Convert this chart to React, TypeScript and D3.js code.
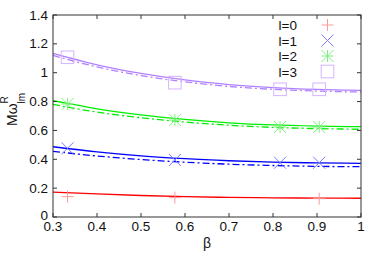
import * as d3 from 'd3';
import { useEffect, useRef } from 'react';

const WIDTH = 374;
const HEIGHT = 262;

// beta samples for the fitted curves
const betaGrid = [0.3, 0.4, 0.5, 0.6, 0.7, 0.8, 0.9, 1.0];

const l0Solid = [0.173, 0.16, 0.149, 0.141, 0.136, 0.133, 0.131, 0.13];
const l1Solid = [0.487, 0.452, 0.424, 0.404, 0.39, 0.38, 0.375, 0.372];
const l1Dash = [0.455, 0.423, 0.398, 0.38, 0.366, 0.357, 0.351, 0.349];
const l2Solid = [0.806, 0.75, 0.708, 0.676, 0.653, 0.638, 0.63, 0.626];
const l2Dash = [0.78, 0.727, 0.688, 0.658, 0.636, 0.621, 0.613, 0.608];
const l3Solid = [1.134, 1.055, 0.995, 0.95, 0.918, 0.897, 0.884, 0.877];
const l3Dash = [1.12, 1.04, 0.98, 0.937, 0.905, 0.885, 0.873, 0.866];

// numerical points
const l0Beta = [0.333, 0.577, 0.905];
const l0Points = [0.141, 0.134, 0.127];
const pointBeta = [0.333, 0.577, 0.816, 0.905];
const l1Points = [0.476, 0.395, 0.376, 0.376];
const l2Points = [0.783, 0.672, 0.624, 0.624];
const l3Points = [1.107, 0.931, 0.885, 0.885];

const xTicks = [0.3, 0.4, 0.5, 0.6, 0.7, 0.8, 0.9, 1];
const yTicks = [0, 0.2, 0.4, 0.6, 0.8, 1, 1.2, 1.4];
const legendLabels = ['l=0', 'l=1', 'l=2', 'l=3'];

const lineColors = ['#ff0000', '#0000ff', '#00ee00', '#b080ff'];
const markerColors = ['#ff9a9a', '#7a7aff', '#80f080', '#d4b4ff'];

type MarkerKind = 'plus' | 'cross' | 'star' | 'square';
const markerKinds: MarkerKind[] = ['plus', 'cross', 'star', 'square'];

export default function App() {
  const svgRef = useRef<SVGSVGElement | null>(null);

  useEffect(() => {
    if (!svgRef.current) return;
    const svg = d3.select(svgRef.current);
    svg.selectAll('*').remove();

    const margin = { left: 53, right: 13, top: 15, bottom: 45 };
    const x = d3.scaleLinear().domain([0.3, 1]).range([margin.left, WIDTH - margin.right]);
    const y = d3.scaleLinear().domain([0, 1.4]).range([HEIGHT - margin.bottom, margin.top]);
    const font = 'Liberation Sans, Arial, sans-serif';

    const line = d3
      .line<[number, number]>()
      .x((d) => x(d[0]))
      .y((d) => y(d[1]))
      .curve(d3.curveMonotoneX);

    const curves: { values: number[]; color: string; dashed: boolean }[] = [
      { values: l3Dash, color: lineColors[3], dashed: true },
      { values: l3Solid, color: lineColors[3], dashed: false },
      { values: l2Dash, color: lineColors[2], dashed: true },
      { values: l2Solid, color: lineColors[2], dashed: false },
      { values: l1Dash, color: lineColors[1], dashed: true },
      { values: l1Solid, color: lineColors[1], dashed: false },
      { values: l0Solid, color: lineColors[0], dashed: false },
    ];

    curves.forEach((c) => {
      svg
        .append('path')
        .attr('d', line(betaGrid.map((b, i) => [b, c.values[i]] as [number, number])))
        .attr('fill', 'none')
        .attr('stroke', c.color)
        .attr('stroke-width', 1.3)
        .attr('stroke-dasharray', c.dashed ? '7,3,2,3' : null);
    });

    const drawMarker = (cx: number, cy: number, kind: MarkerKind, color: string) => {
      const h = 6;
      const g = svg.append('g').attr('stroke', color).attr('stroke-width', 1).attr('fill', 'none');
      if (kind === 'plus' || kind === 'star') {
        g.append('line').attr('x1', cx - h).attr('x2', cx + h).attr('y1', cy).attr('y2', cy);
        g.append('line').attr('x1', cx).attr('x2', cx).attr('y1', cy - h).attr('y2', cy + h);
      }
      if (kind === 'cross' || kind === 'star') {
        g.append('line').attr('x1', cx - h).attr('x2', cx + h).attr('y1', cy - h).attr('y2', cy + h);
        g.append('line').attr('x1', cx - h).attr('x2', cx + h).attr('y1', cy + h).attr('y2', cy - h);
      }
      if (kind === 'square') {
        g.append('rect')
          .attr('x', cx - 6.3)
          .attr('y', cy - 6.3)
          .attr('width', 12.6)
          .attr('height', 12.6);
      }
    };

    l0Beta.forEach((b, i) => drawMarker(x(b), y(l0Points[i]), 'plus', markerColors[0]));
    pointBeta.forEach((b, i) => drawMarker(x(b), y(l1Points[i]), 'cross', markerColors[1]));
    pointBeta.forEach((b, i) => drawMarker(x(b), y(l2Points[i]), 'star', markerColors[2]));
    pointBeta.forEach((b, i) => drawMarker(x(b), y(l3Points[i]), 'square', markerColors[3]));

    // frame with inward ticks on all sides
    const [x0, x1] = x.range();
    const [y0, y1] = y.range();
    const axis = svg.append('g').attr('stroke', '#333').attr('stroke-width', 1);
    axis
      .append('rect')
      .attr('x', x0)
      .attr('y', y1)
      .attr('width', x1 - x0)
      .attr('height', y0 - y1)
      .attr('fill', 'none');
    const tick = 4;
    xTicks.forEach((t) => {
      axis.append('line').attr('x1', x(t)).attr('x2', x(t)).attr('y1', y0).attr('y2', y0 - tick);
      axis.append('line').attr('x1', x(t)).attr('x2', x(t)).attr('y1', y1).attr('y2', y1 + tick);
    });
    yTicks.forEach((t) => {
      axis.append('line').attr('x1', x0).attr('x2', x0 + tick).attr('y1', y(t)).attr('y2', y(t));
      axis.append('line').attr('x1', x1).attr('x2', x1 - tick).attr('y1', y(t)).attr('y2', y(t));
    });

    svg
      .append('g')
      .selectAll('text')
      .data(xTicks)
      .join('text')
      .attr('x', (d) => x(d))
      .attr('y', y0 + 14)
      .attr('text-anchor', 'middle')
      .attr('font-family', font)
      .attr('font-size', 13.5)
      .attr('fill', '#111')
      .text((d) => d3.format('~g')(d));

    svg
      .append('g')
      .selectAll('text')
      .data(yTicks)
      .join('text')
      .attr('x', x0 - 5)
      .attr('y', (d) => y(d) + (d === 0 ? 2.5 : 4.5))
      .attr('text-anchor', 'end')
      .attr('font-family', font)
      .attr('font-size', 13.5)
      .attr('fill', '#111')
      .text((d) => d3.format('~g')(d));

    svg
      .append('text')
      .attr('x', 207)
      .attr('y', 248)
      .attr('text-anchor', 'middle')
      .attr('font-family', font)
      .attr('font-size', 14)
      .attr('fill', '#111')
      .text('β');

    const ylab = svg
      .append('g')
      .attr('transform', 'translate(17,126) rotate(-90)')
      .attr('font-family', font)
      .attr('fill', '#111');
    ylab.append('text').attr('x', 0).attr('y', 0).attr('font-size', 14).text('Mω');
    ylab.append('text').attr('x', 22.5).attr('y', -9).attr('font-size', 10).text('R');
    ylab.append('text').attr('x', 22.5).attr('y', 7.5).attr('font-size', 10).text('lm');

    // legend
    legendLabels.forEach((label, i) => {
      const cy = 25 + i * 15.5;
      svg
        .append('text')
        .attr('x', 297)
        .attr('y', cy + 5)
        .attr('text-anchor', 'end')
        .attr('font-family', font)
        .attr('font-size', 13.5)
        .attr('fill', '#111')
        .text(label);
      drawMarker(327.5, cy, markerKinds[i], markerColors[i]);
    });
  }, []);

  return (
    <svg
      ref={svgRef}
      width={WIDTH}
      height={HEIGHT}
      style={{ position: 'absolute', left: 0, top: 0, background: '#fff' }}
    />
  );
}
